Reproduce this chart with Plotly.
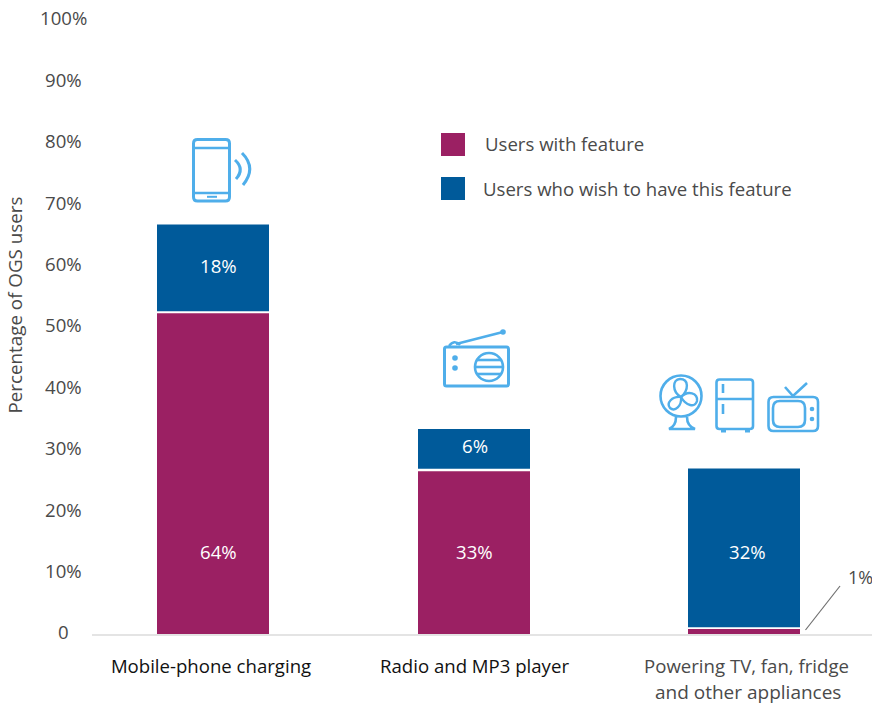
import plotly.graph_objects as go

# ---- data ----
categories = ["Mobile-phone charging", "Radio and MP3 player", "Powering TV, fan, fridge"]
category_second_line = ["", "", "and other appliances"]
with_feature = [52.25, 26.5, 0.8]
wish_feature = [14.15, 6.5, 25.85]
segment_gap = [0.3, 0.4, 0.3]
with_labels = ["64%", "33%", ""]
wish_labels = ["18%", "6%", "32%"]
y_ticks = [0, 10, 20, 30, 40, 50, 60, 70, 80, 90, 100]
y_tick_labels = ["0", "10%", "20%", "30%", "40%", "50%", "60%", "70%", "80%", "90%", "100%"]
series_names = ["Users with feature", "Users who wish to have this feature"]

# ---- layout helpers ----
W, H = 872, 704
L, R, T, B = 92, 872, 20, 634
PURPLE, BLUE, ICON = "#9B2063", "#005A9A", "#4FAEEA"
TXT = "#4a4a4a"
FONT = "Open Sans"
FS = 18.6
centers = [213, 474, 744]
tick_centers = [211, 474.5, 746.5]
label_centers = [218.5, 474.5, 747]
with_y = [13.2, 13.2]
wish_y = [59.7, 30.4, 13.2]


def px(x):
    return (x - L) / (R - L)


def py(y):
    return (B - y) / (B - T)


def path(*items):
    """items: strings (commands) or (x, y) pixel tuples."""
    out = []
    for it in items:
        if isinstance(it, str):
            out.append(it)
        else:
            out.append(f"{px(it[0]):.5f},{py(it[1]):.5f}")
    return " ".join(out)


shapes = []


def stroke(p, width=2.6, fill=None):
    shapes.append(dict(type="path", xref="paper", yref="paper", path=p,
                       line=dict(color=ICON, width=width),
                       fillcolor=fill if fill else "rgba(0,0,0,0)", layer="above"))


def seg(x0, y0, x1, y1, width=2.6):
    stroke(path("M", (x0, y0), "L", (x1, y1)), width)


def rrect(x0, y0, x1, y1, r=3, width=2.6):
    stroke(path("M", (x0 + r, y0), "L", (x1 - r, y0), "Q", (x1, y0), (x1, y0 + r),
                "L", (x1, y1 - r), "Q", (x1, y1), (x1 - r, y1),
                "L", (x0 + r, y1), "Q", (x0, y1), (x0, y1 - r),
                "L", (x0, y0 + r), "Q", (x0, y0), (x0 + r, y0), "Z"), width)


def circle(cx, cy, r, fill=False, width=2.6):
    shapes.append(dict(type="circle", xref="paper", yref="paper",
                       x0=px(cx - r), x1=px(cx + r), y0=py(cy + r), y1=py(cy - r),
                       line=dict(color=ICON, width=0 if fill else width),
                       fillcolor=ICON if fill else "rgba(0,0,0,0)", layer="above"))


# phone
rrect(193.5, 139.5, 229.5, 201, 4, 3)
seg(193.5, 148, 229.5, 148)
seg(193.5, 193, 229.5, 193)
seg(207, 196.8, 217, 196.8, 2)
stroke(path("M", (235, 160), "Q", (245, 169), (236, 179)), 3)
stroke(path("M", (242, 153), "Q", (257, 168), (243, 185)), 3)
# radio
rrect(444.5, 347, 508.5, 386, 2, 3)
seg(456, 344, 503, 332)
circle(503, 332, 2.8, fill=True)
stroke(path("M", (449, 346), "Q", (454, 339), (460, 345)), 2.4)
circle(455, 358, 2.8, fill=True)
circle(455, 368, 2.8, fill=True)
circle(489, 367, 14)
seg(477, 360, 501, 360)
seg(475, 367, 503, 367)
seg(477, 374, 501, 374)
# fan
circle(681, 396, 20.5)
stroke(path("M", (681, 397), "C", (672, 392), (672, 379), (680, 379),
            "C", (689, 379), (689, 390), (681, 397)), 2.4)
stroke(path("M", (681, 397), "C", (688, 390), (698, 393), (697, 401),
            "C", (695, 408), (686, 406), (681, 397)), 2.4)
stroke(path("M", (681, 397), "C", (682, 406), (675, 412), (670, 408),
            "C", (666, 403), (672, 396), (681, 397)), 2.4)
stroke(path("M", (676, 417), "Q", (676, 426), (669, 429), "L", (695, 429),
            "Q", (687, 426), (687, 417)), 2.6)
# fridge
rrect(716.5, 379.5, 753, 429, 3)
seg(716.5, 399, 753, 399)
seg(723, 384, 723, 393)
seg(723, 404, 723, 414)
seg(721, 431, 726, 431, 3)
seg(745, 431, 750, 431, 3)
# tv
rrect(768.5, 397, 818, 431, 5)
rrect(773, 401, 805, 427, 7)
circle(812, 409, 2.3, fill=True)
circle(812, 419, 2.3, fill=True)
stroke(path("M", (785, 387), "L", (793, 396), "L", (807, 383)), 2.6)

# legend swatches
shapes.append(dict(type="rect", xref="paper", yref="paper", x0=px(441), x1=px(465),
                   y0=py(156), y1=py(133), fillcolor=PURPLE, line_width=0))
shapes.append(dict(type="rect", xref="paper", yref="paper", x0=px(441), x1=px(465),
                   y0=py(200), y1=py(177), fillcolor=BLUE, line_width=0))
# leader line for the smallest value
shapes.append(dict(type="line", xref="paper", yref="paper", x0=px(805.5), y0=py(630),
                   x1=px(840), y1=py(586), line=dict(color="#6f6f6f", width=1.2)))

annotations = []


def note(x, y, text, size=FS, color=TXT, anchor="center", xref="paper", yref="paper", angle=0, yshift=1.5):
    annotations.append(dict(x=x, y=y, xref=xref, yref=yref, text=text, showarrow=False,
                            xanchor=anchor, yanchor="middle", textangle=angle, yshift=yshift,
                            font=dict(family=FONT, size=size, color=color)))


for v, t in zip(y_ticks, y_tick_labels):
    note(px(63.5), v, t, yref="y", yshift=2.1)
note(px(14.5), py(306.5), "Percentage of OGS users", size=18.8, angle=-90)
note(px(483), py(145), series_names[0], anchor="left")
note(px(481), py(189.5), series_names[1], anchor="left")
note(px(860), py(578), "1%", size=18)
for c, t, y in zip(label_centers, with_labels, with_y):
    note(c, y, t, color="white", xref="x", yref="y")
for c, t, y in zip(label_centers, wish_labels, wish_y):
    note(c, y, t, color="white", xref="x", yref="y")
for c, t in zip(tick_centers, category_second_line):
    if t:
        note(c + 1, py(693), t, size=19, xref="x")

blue_base = [a + g for a, g in zip(with_feature, segment_gap)]

fig = go.Figure()
fig.add_bar(x=centers, y=with_feature, width=112, marker=dict(color=PURPLE, line_width=0),
            name=series_names[0])
fig.add_bar(x=centers, y=wish_feature, base=blue_base, width=112,
            marker=dict(color=BLUE, line_width=0), name=series_names[1])

tick_text = [f'<span style="color:#111">{categories[0]}</span>',
             f'<span style="color:#111">{categories[1]}</span>',
             f'<span style="color:{TXT}">{categories[2]}</span>']
fig.update_layout(
    width=W, height=H, barmode="overlay", showlegend=False,
    paper_bgcolor="white", plot_bgcolor="white",
    margin=dict(l=L, r=W - R, t=T, b=H - B, pad=0),
    font=dict(family=FONT, size=FS, color=TXT),
    xaxis=dict(range=[L, R], tickmode="array", tickvals=tick_centers, ticktext=tick_text,
               showgrid=False, zeroline=False, showline=True, linecolor="#e4e4e4",
               linewidth=1.5, ticks="", ticklabelstandoff=15, automargin=False,
               tickfont=dict(family=FONT, size=FS)),
    yaxis=dict(range=[0, 100], tickvals=y_ticks, showticklabels=False, showgrid=False,
               zeroline=False, showline=False, ticks="", automargin=False),
    shapes=shapes, annotations=annotations,
)
fig.write_html("out.html", config=dict(displayModeBar=False),
               post_script="document.body.style.margin='0';document.body.style.overflow='hidden';")
